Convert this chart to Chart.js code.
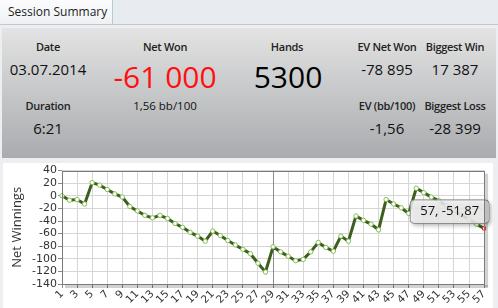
<!DOCTYPE html>
<html>
<head>
<meta charset="utf-8">
<script src="https://cdn.jsdelivr.net/npm/chart.js@4/dist/chart.umd.min.js"></script>
<style>
  html, body { margin: 0; padding: 0; }
  body { width: 498px; height: 308px; background: #eceef2; position: relative; overflow: hidden;
         font-family: "Open Sans", "Noto Sans", sans-serif; color: #111; }
  .tabbar { position: absolute; left: 0; top: 0; width: 498px; height: 24px; background: #e8ebef;
            border-bottom: 1px solid #c4c8cc; }
  .tab { position: absolute; left: 0; top: 0; width: 113px; height: 24px; box-sizing: border-box;
         border-right: 1px solid #b9c9d6; background: linear-gradient(#fcfcfd, #eef1f4);
         font-size: 12px; line-height: 23px; padding-left: 8px; color: #222; white-space: nowrap; }
  .summary { position: absolute; left: 2px; top: 28px; width: 494px; height: 130px;
             background: linear-gradient(#e3e3e3, #a9abae); }
  .cell { position: absolute; text-align: center; transform: translateX(-50%); white-space: nowrap; }
  .lbl { font-weight: 600; font-size: 11px; letter-spacing: -0.3px; color: #222; }
  .val { font-size: 15px; color: #111; }
  .big { font-size: 30px; color: #000; }
  .red { color: #ff1010; }
  .small { font-size: 11.5px; color: #111; }
  .chartbox { position: absolute; left: 3px; top: 163px; width: 490px; height: 145px; background: #fff; }
</style>
</head>
<body>
<div class="tabbar"><div class="tab">Session Summary</div></div>
<div class="summary">
  <div class="cell lbl" style="left:46px; top:11px">Date</div>
  <div class="cell val" style="left:46px; top:31px">03.07.2014</div>
  <div class="cell lbl" style="left:46px; top:70px">Duration</div>
  <div class="cell val" style="left:46px; top:90px">6:21</div>

  <div class="cell lbl" style="left:163px; top:11px">Net Won</div>
  <div class="cell big red" style="left:163px; top:28px">-61 000</div>
  <div class="cell small" style="left:163px; top:70px">1,56 bb/100</div>

  <div class="cell lbl" style="left:285px; top:11px">Hands</div>
  <div class="cell big" style="left:286px; top:28px">5300</div>

  <div class="cell lbl" style="left:385px; top:11px">EV Net Won</div>
  <div class="cell val" style="left:385px; top:31px">-78 895</div>
  <div class="cell lbl" style="left:385px; top:70px">EV (bb/100)</div>
  <div class="cell val" style="left:385px; top:90px">-1,56</div>

  <div class="cell lbl" style="left:453px; top:11px">Biggest Win</div>
  <div class="cell val" style="left:453px; top:31px">17 387</div>
  <div class="cell lbl" style="left:453px; top:70px">Biggest Loss</div>
  <div class="cell val" style="left:453px; top:90px">-28 399</div>
</div>
<div class="chartbox"><canvas id="chart" width="490" height="145"></canvas></div>
<script>
// --- DATOS ---
const hands = Array.from({length: 57}, (_, i) => String(i + 1));
const netWinnings = [
  0, -7, -6, -13, 21, 17, 10, 3, -2, -17,
  -24, -31, -35, -31, -36, -44, -50, -58, -64, -72,
  -56, -63, -71, -78, -85, -92, -107, -121, -81, -89,
  -96, -103, -101, -89, -74, -82, -88, -64, -72, -32,
  -39, -45, -54, -6, -13, -19, -28, 12, 5, -2,
  -8, -16, -23, -31, -37, -45, -51.87
];
const yTicks = { min: -140, max: 40, step: 20 };
const markedHand = 29;       // linea vertical
const hoverHand = 57;        // punto con tooltip

// --- PLUGINS ---
const plotFrame = {
  id: 'plotFrame',
  beforeDatasetsDraw(chart) {
    const { ctx, chartArea: a, scales } = chart;
    const x = scales.x.getPixelForValue(markedHand - 1);
    ctx.save();
    ctx.strokeStyle = '#8c8c8c';
    ctx.lineWidth = 1;
    ctx.beginPath();
    ctx.moveTo(Math.round(x) + 0.5, a.top);
    ctx.lineTo(Math.round(x) + 0.5, a.bottom);
    ctx.stroke();
    ctx.restore();
  },
  afterDraw(chart) {
    const { ctx, chartArea: a } = chart;
    ctx.save();
    // sombra derecha / abajo
    ctx.fillStyle = 'rgba(0,0,0,0.18)';
    ctx.fillRect(a.right + 1, a.top + 3, 3, a.bottom - a.top);
    ctx.fillRect(a.left + 3, a.bottom + 1, a.right - a.left + 1, 3);
    ctx.strokeStyle = '#7a7a7a';
    ctx.lineWidth = 1;
    ctx.strokeRect(Math.round(a.left) + 0.5, Math.round(a.top) + 0.5,
      Math.round(a.right - a.left), Math.round(a.bottom - a.top));
    ctx.restore();
  },
  beforeTooltipDraw(chart, args) {
    const t = args.tooltip;
    const { ctx } = chart;
    ctx.save();
    ctx.shadowColor = 'rgba(0,0,0,0.35)';
    ctx.shadowBlur = 4;
    ctx.shadowOffsetX = 2;
    ctx.shadowOffsetY = 2;
    ctx.fillStyle = 'rgba(240,240,240,0.85)';
    ctx.beginPath();
    ctx.roundRect(t.x, t.y, t.width, t.height, 4);
    ctx.fill();
    ctx.restore();
  }
};

Chart.Tooltip.positioners.fixedLeft = function (items) {
  if (!items.length) return false;
  const el = items[0].element;
  return { x: el.x + 1, y: el.y - 5 };
};

const ctx = document.getElementById('chart').getContext('2d');
const chart = new Chart(ctx, {
  type: 'line',
  data: {
    labels: hands,
    datasets: [{
      data: netWinnings,
      borderColor: '#3d5e1f',
      borderWidth: 3,
      tension: 0,
      pointRadius: 2.2,
      pointBorderWidth: 1,
      pointBackgroundColor: '#ffffff',
      pointBorderColor: hands.map(h => Number(h) === hoverHand ? '#ff2020' : '#86c055'),
      pointStyle: hands.map(h => Number(h) === hoverHand ? 'rect' : 'circle')
    }]
  },
  options: {
    responsive: false,
    animation: false,
    events: [],
    layout: { padding: { top: 6, right: 3, left: 0, bottom: 0 } },
    plugins: {
      legend: { display: false },
      tooltip: {
        position: 'fixedLeft',
        xAlign: 'right',
        yAlign: 'bottom',
        caretSize: 0,
        caretPadding: 0,
        cornerRadius: 4,
        displayColors: false,
        backgroundColor: 'rgba(0,0,0,0)',
        borderColor: '#8a8a8a',
        borderWidth: 1,
        bodyColor: '#111',
        bodyFont: { family: 'Open Sans', size: 13 },
        padding: { left: 10, right: 10, top: 4, bottom: 4 },
        callbacks: {
          title: () => '',
          label: c => `${c.label}, ${String(c.parsed.y).replace('.', ',')}`
        }
      }
    },
    scales: {
      x: {
        grid: {
          color: c => (c.index % 2 === 0 ? '#d6d6d6' : 'rgba(0,0,0,0)'),
          tickColor: c => (c.index % 2 === 0 ? '#8a8a8a' : 'rgba(0,0,0,0)'),
          tickLength: 4
        },
        border: { display: false },
        ticks: {
          autoSkip: false,
          maxRotation: 45,
          minRotation: 45,
          padding: 0,
          color: '#333',
          font: { family: 'DejaVu Sans', size: 10.5 },
          callback: (v, i) => (i % 2 === 0 ? hands[i] : '')
        },
        afterFit(scale) { scale.height = 24; }
      },
      y: {
        min: yTicks.min,
        max: yTicks.max,
        grid: { color: '#d6d6d6', tickColor: '#8a8a8a', tickLength: 4 },
        border: { display: false },
        ticks: {
          stepSize: yTicks.step,
          autoSkip: false,
          padding: 1,
          color: '#333',
          font: { family: 'DejaVu Sans', size: 11 }
        },
        title: {
          display: true,
          text: 'Net Winnings',
          color: '#333',
          font: { family: 'Open Sans', size: 13 },
          padding: { top: 6, bottom: 0 }
        },
        afterFit(scale) { scale.width = 59; }
      }
    }
  },
  plugins: [plotFrame]
});

const last = chart.getDatasetMeta(0).data[hoverHand - 1];
chart.tooltip.setActiveElements([{ datasetIndex: 0, index: hoverHand - 1 }], { x: last.x, y: last.y });
chart.update();
</script>
</body>
</html>
